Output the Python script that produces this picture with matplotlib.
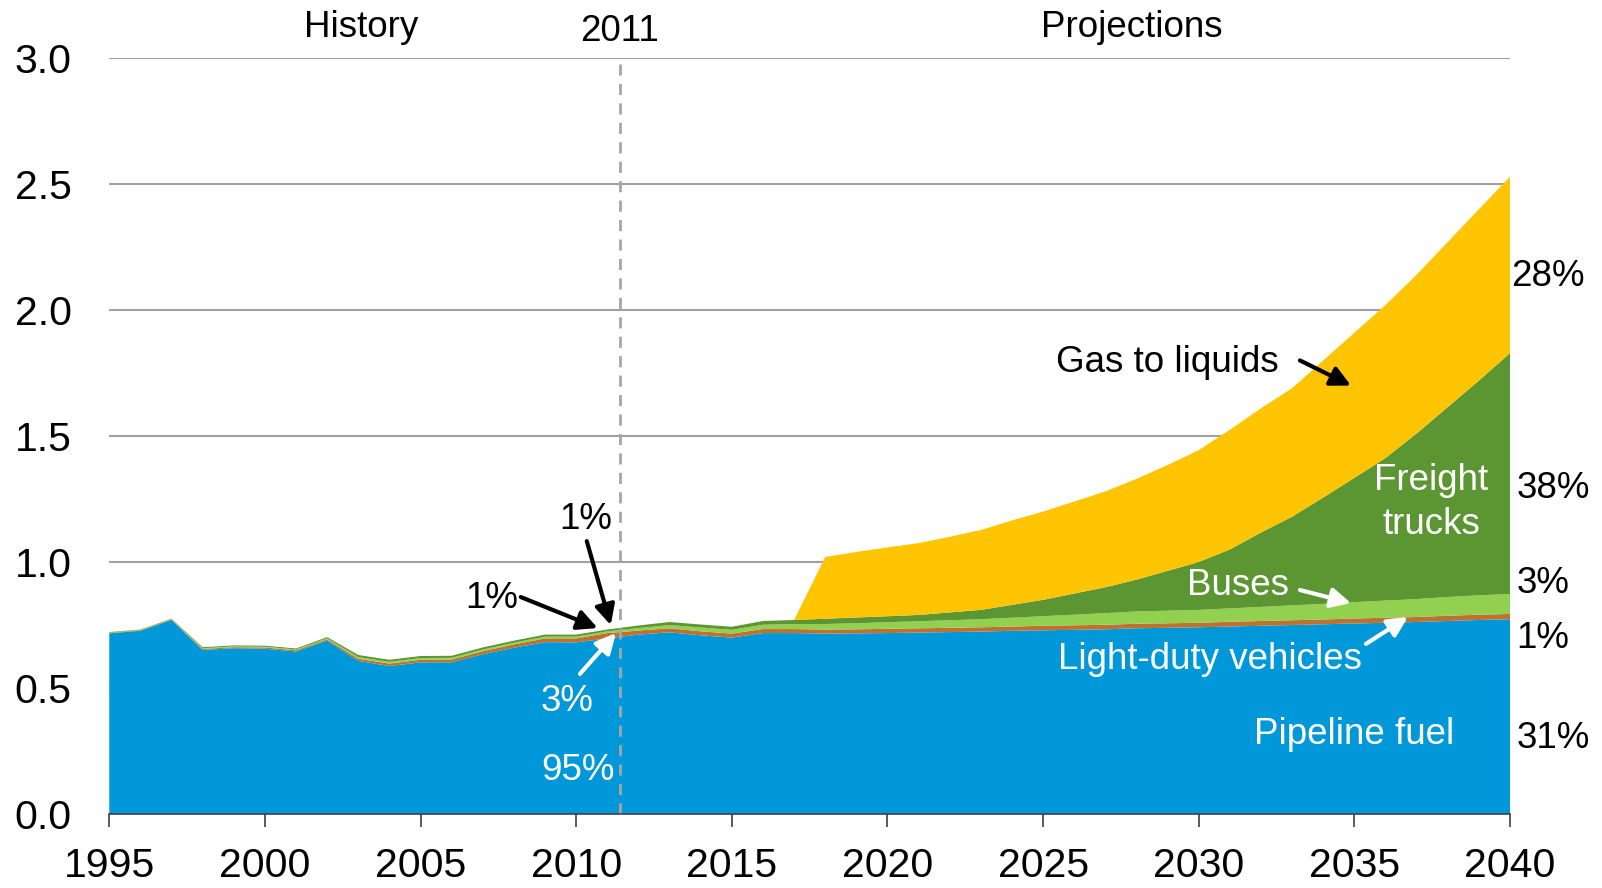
import matplotlib
matplotlib.use("Agg")
import matplotlib.pyplot as plt
import numpy as np

plt.rcParams['font.family'] = ['Liberation Sans', 'DejaVu Sans']

years = list(range(1995, 2041))

pipeline = [0.717, 0.727, 0.770, 0.651, 0.658, 0.656, 0.645, 0.688, 0.608, 0.587,
            0.602, 0.602, 0.634, 0.660, 0.682, 0.681, 0.697, 0.712, 0.721, 0.709,
            0.700, 0.718, 0.718, 0.716, 0.717, 0.718, 0.720, 0.722, 0.724, 0.727,
            0.729, 0.731, 0.733, 0.737, 0.739, 0.741, 0.744, 0.747, 0.750, 0.753,
            0.756, 0.759, 0.762, 0.766, 0.770, 0.773]
light_duty = [0.002, 0.002, 0.002, 0.004, 0.004, 0.005, 0.005, 0.005, 0.008, 0.010,
              0.010, 0.011, 0.012, 0.013, 0.015, 0.016, 0.021, 0.016, 0.016, 0.016,
              0.016, 0.016, 0.016, 0.016, 0.016, 0.017, 0.017, 0.017, 0.017, 0.017,
              0.018, 0.018, 0.018, 0.018, 0.018, 0.018, 0.019, 0.019, 0.019, 0.019,
              0.020, 0.020, 0.020, 0.021, 0.021, 0.021]
buses = [0.001, 0.001, 0.001, 0.003, 0.003, 0.003, 0.003, 0.004, 0.007, 0.007,
         0.007, 0.007, 0.007, 0.007, 0.007, 0.007, 0.007, 0.010, 0.013, 0.015,
         0.015, 0.017, 0.020, 0.022, 0.024, 0.026, 0.028, 0.030, 0.032, 0.035,
         0.038, 0.042, 0.046, 0.049, 0.050, 0.051, 0.053, 0.056, 0.059, 0.062,
         0.065, 0.068, 0.071, 0.074, 0.077, 0.079]
freight = [0.002, 0.002, 0.002, 0.004, 0.004, 0.004, 0.004, 0.005, 0.008, 0.008,
           0.008, 0.008, 0.008, 0.008, 0.008, 0.008, 0.007, 0.010, 0.012, 0.012,
           0.012, 0.015, 0.016, 0.021, 0.023, 0.024, 0.025, 0.031, 0.037, 0.051,
           0.065, 0.084, 0.103, 0.126, 0.158, 0.190, 0.234, 0.295, 0.352, 0.422,
           0.493, 0.566, 0.657, 0.754, 0.852, 0.956]
gas_to_liquids = [0.0] * 23 + [0.245, 0.260, 0.273, 0.285, 0.300, 0.317, 0.335,
                               0.350, 0.365, 0.380, 0.400, 0.420, 0.444, 0.475, 0.493,
                               0.510, 0.544, 0.576, 0.607, 0.630, 0.655, 0.680, 0.700]

colors = ['#0098D8', '#BF7230', '#92D050', '#5B9632', '#FFC502']
x_ticks = [1995, 2000, 2005, 2010, 2015, 2020, 2025, 2030, 2035, 2040]
y_ticks = [0.0, 0.5, 1.0, 1.5, 2.0, 2.5, 3.0]

fig = plt.figure(figsize=(16.02, 8.88), dpi=100)
ax = fig.add_axes([0.0682, 0.0833, 0.8744, 0.8514])

ax.stackplot(years, pipeline, light_duty, buses, freight, gas_to_liquids,
             colors=colors, linewidth=0, zorder=2)

ax.set_xlim(1995, 2040)
ax.set_ylim(0, 3.0)
ax.set_yticks(y_ticks)
ax.set_yticklabels([f"{v:.1f}" for v in y_ticks])
ax.set_xticks(x_ticks)
ax.set_xticklabels([str(v) for v in x_ticks])
for v in y_ticks[1:]:
    ax.axhline(v, color='#A0A0A0', lw=1.5, zorder=1)

for s in ['top', 'right', 'left']:
    ax.spines[s].set_visible(False)
ax.spines['bottom'].set_color('#404040')
ax.spines['bottom'].set_linewidth(1.2)
ax.spines['bottom'].set_zorder(5)
ax.tick_params(axis='y', length=0, labelsize=29.5, pad=27)
ax.tick_params(axis='x', direction='out', length=9, width=1.2, color='#404040',
               labelsize=29.5, pad=15)

# 2011 divider
ax.plot([2011.4, 2011.4], [0, 3.0], color='#A6A6A6', lw=2, ls=(0, (4, 3)), zorder=3)

fs = 26.5
ax.text(2003.1, 3.12, "History", ha='center', va='center', fontsize=fs, clip_on=False)
ax.text(2011.4, 3.105, "2011", ha='center', va='center', fontsize=fs, clip_on=False)
ax.text(2027.85, 3.12, "Projections", ha='center', va='center', fontsize=fs, clip_on=False)

ax.text(2028.98, 1.79, "Gas to liquids", ha='center', va='center', fontsize=fs)
ax.text(2037.46, 1.235, "Freight\ntrucks", ha='center', va='center', fontsize=fs,
        color='white', linespacing=1.32)
ax.text(2031.26, 0.905, "Buses", ha='center', va='center', fontsize=fs, color='white')
ax.text(2030.36, 0.613, "Light-duty vehicles", ha='center', va='center', fontsize=fs,
        color='white')
ax.text(2034.98, 0.317, "Pipeline fuel", ha='center', va='center', fontsize=fs,
        color='white')

for x, y, t in [(2040.05, 2.133, "28%"), (2040.2, 1.29, "38%"), (2040.2, 0.915, "3%"),
                (2040.2, 0.698, "1%"), (2040.2, 0.30, "31%")]:
    ax.text(x, y, t, ha='left', va='center', fontsize=fs, clip_on=False)

ax.text(2010.31, 1.169, "1%", ha='center', va='center', fontsize=fs)
ax.text(2007.29, 0.855, "1%", ha='center', va='center', fontsize=fs)
ax.text(2009.70, 0.446, "3%", ha='center', va='center', fontsize=fs, color='white')
ax.text(2010.06, 0.173, "95%", ha='center', va='center', fontsize=fs, color='white')

def arrow(x0, y0, x1, y1, c):
    ax.annotate("", xy=(x1, y1), xytext=(x0, y0),
                arrowprops=dict(arrowstyle='-|>', color=c, lw=3, mutation_scale=30,
                                shrinkA=0, shrinkB=0), zorder=6)

arrow(2033.25, 1.80, 2034.89, 1.70, 'black')
arrow(2033.25, 0.889, 2034.89, 0.837, 'white')
arrow(2035.37, 0.675, 2036.72, 0.782, 'white')
arrow(2010.34, 1.083, 2011.11, 0.75, 'black')
arrow(2008.22, 0.861, 2010.69, 0.738, 'black')
arrow(2010.12, 0.556, 2011.28, 0.718, 'white')

fig.savefig("out.png", dpi=100)
